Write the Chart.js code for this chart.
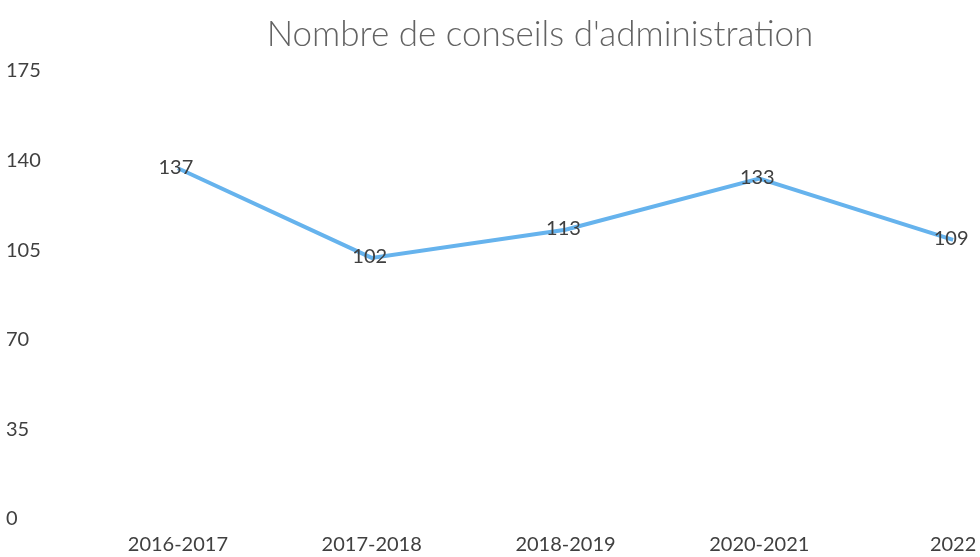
<!DOCTYPE html>
<html>
<head>
<meta charset="utf-8">
<script src="https://cdn.jsdelivr.net/npm/chart.js@4"></script>
<style>
  html, body { margin: 0; padding: 0; background: #fff; overflow: hidden; }
  #wrap { width: 980px; height: 557px; overflow: hidden; }
</style>
</head>
<body>
<div id="wrap">
  <canvas id="grafico" width="1080" height="563"></canvas>
</div>
<script>
// Données du graphique
const annees = ['2016-2017', '2017-2018', '2018-2019', '2020-2021', '2022'];
const conseils = [137, 102, 113, 133, 109];
const graduations = [0, 35, 70, 105, 140, 175];

const police = 'Lato, "Open Sans", sans-serif';

// Étiquettes de valeur centrées sur chaque point
const etiquettes = {
  id: 'etiquettes',
  afterDatasetsDraw(chart) {
    const ctx = chart.ctx;
    const meta = chart.getDatasetMeta(0);
    ctx.save();
    ctx.font = '20px ' + police;
    ctx.fillStyle = '#404040';
    ctx.textAlign = 'center';
    ctx.textBaseline = 'middle';
    meta.data.forEach((pt, i) => {
      ctx.fillText(conseils[i], pt.x - 2, pt.y - 1);
    });
    ctx.restore();
  }
};

const ctx = document.getElementById('grafico').getContext('2d');
new Chart(ctx, {
  type: 'line',
  data: {
    labels: annees,
    datasets: [{
      label: 'Nombre de conseils',
      data: conseils,
      borderColor: '#66B3ED',
      borderWidth: 4,
      pointRadius: 0,
      tension: 0,
      fill: false
    }]
  },
  options: {
    responsive: false,
    animation: false,
    layout: { padding: { top: 14, left: 6, right: 6, bottom: 0 } },
    plugins: {
      legend: { display: false },
      tooltip: { enabled: false },
      title: {
        display: true,
        text: "Nombre de conseils d'administration",
        color: '#636363',
        font: { family: police, size: 35, weight: 300 },
        padding: { top: 0, bottom: 15 }
      }
    },
    scales: {
      x: {
        offset: true,
        grid: { display: false },
        border: { display: false },
        ticks: {
          color: '#404040',
          font: { family: police, size: 20 },
          padding: 6,
          maxRotation: 0
        }
      },
      y: {
        min: 0,
        max: 175,
        afterBuildTicks: axis => { axis.ticks = graduations.map(v => ({ value: v })); },
        afterFit: axis => { axis.width = 75; },
        grid: { display: false },
        border: { display: false },
        ticks: {
          color: '#404040',
          crossAlign: 'far',
          font: { family: police, size: 20 }
        }
      },
      // axe vide à droite pour garder la marge du graphique d'origine
      marge: {
        position: 'right',
        afterFit: axis => { axis.width = 24; },
        grid: { display: false },
        border: { display: false },
        ticks: { display: false }
      }
    }
  },
  plugins: [etiquettes]
});
</script>
</body>
</html>
